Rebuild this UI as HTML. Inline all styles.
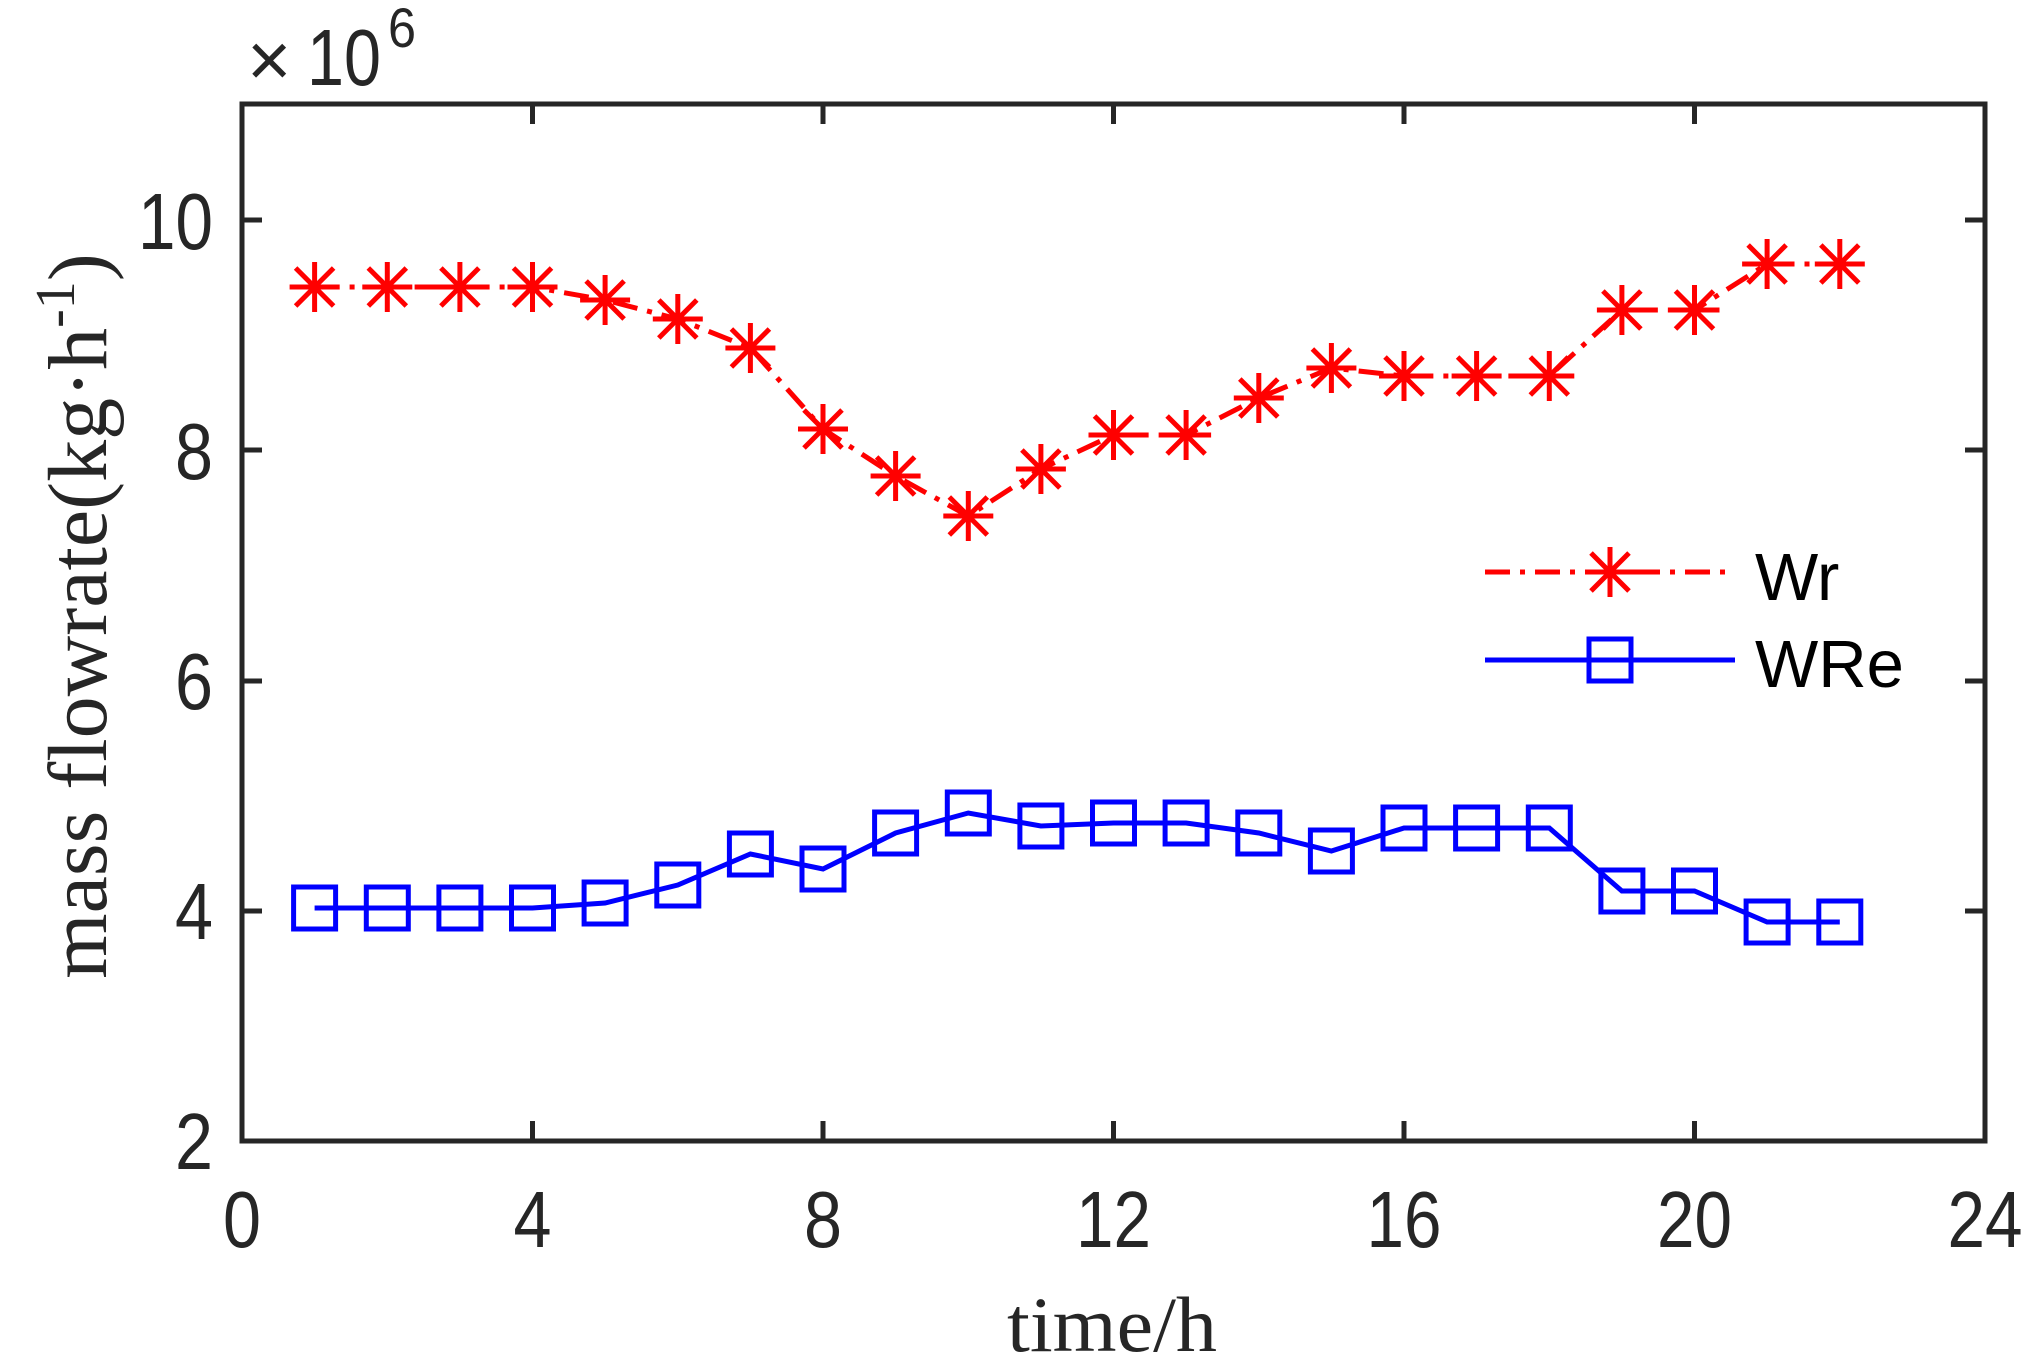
<!DOCTYPE html>
<html><head><meta charset="utf-8"><style>
html,body{margin:0;padding:0;background:#fff;}
svg{display:block;}
</style></head><body>
<svg width="2030" height="1358" viewBox="0 0 2030 1358" xmlns="http://www.w3.org/2000/svg">
<defs>
<g id="st" stroke="#ff0000" stroke-width="5" fill="none">
<line x1="-25" y1="0" x2="25" y2="0"/><line x1="0" y1="-25" x2="0" y2="25"/>
<line x1="-19" y1="-19" x2="19" y2="19"/><line x1="-19" y1="19" x2="19" y2="-19"/>
</g>
<rect id="sq" x="-21" y="-21" width="42" height="42" stroke="#0000ff" stroke-width="5" fill="none"/>
</defs>
<rect width="2030" height="1358" fill="#fff"/>
<g stroke="#262626" stroke-width="5" fill="none">
<rect x="242" y="104" width="1743" height="1037"/>
<path d="M532.5,1141v-20M823,1141v-20M1113.5,1141v-20M1404,1141v-20M1694.5,1141v-20
M532.5,104v20M823,104v20M1113.5,104v20M1404,104v20M1694.5,104v20
M242,911h20M242,681h20M242,450h20M242,220h20
M1985,911h-20M1985,681h-20M1985,450h-20M1985,220h-20"/>
</g>
<g font-family="Liberation Sans, Arial, sans-serif" font-size="80" fill="#262626">
<text x="213" y="1169" text-anchor="end" textLength="38" lengthAdjust="spacingAndGlyphs">2</text>
<text x="213" y="939" text-anchor="end" textLength="38" lengthAdjust="spacingAndGlyphs">4</text>
<text x="213" y="709" text-anchor="end" textLength="38" lengthAdjust="spacingAndGlyphs">6</text>
<text x="213" y="479" text-anchor="end" textLength="38" lengthAdjust="spacingAndGlyphs">8</text>
<text x="213" y="249" text-anchor="end" textLength="75" lengthAdjust="spacingAndGlyphs">10</text>
<text x="223" y="1247" textLength="38" lengthAdjust="spacingAndGlyphs">0</text>
<text x="513.5" y="1247" textLength="38" lengthAdjust="spacingAndGlyphs">4</text>
<text x="804" y="1247" textLength="38" lengthAdjust="spacingAndGlyphs">8</text>
<text x="1076" y="1247" textLength="75" lengthAdjust="spacingAndGlyphs">12</text>
<text x="1366.5" y="1247" textLength="75" lengthAdjust="spacingAndGlyphs">16</text>
<text x="1657" y="1247" textLength="75" lengthAdjust="spacingAndGlyphs">20</text>
<text x="1947.5" y="1247" textLength="75" lengthAdjust="spacingAndGlyphs">24</text>
<text x="247" y="86" font-size="76">×</text>
<text x="307" y="85" textLength="74" lengthAdjust="spacingAndGlyphs">10</text>
<text x="388" y="47" font-size="56" textLength="28" lengthAdjust="spacingAndGlyphs">6</text>
</g>
<text x="1112" y="1351" text-anchor="middle" font-family="Liberation Serif, Times New Roman, serif" font-size="78" fill="#262626" textLength="210" lengthAdjust="spacingAndGlyphs">time/h</text>
<text transform="translate(106,616) rotate(-90)" text-anchor="middle" font-family="Liberation Serif, Times New Roman, serif" font-size="84" fill="#262626">mass flowrate(kg·h<tspan font-size="56" dy="-32">-1</tspan><tspan dy="32">)</tspan></text>
<polyline fill="none" stroke="#ff0000" stroke-width="5" stroke-dasharray="25 10 5 10"
points="314.6,287 387.3,287 459.9,287 532.5,287 605.1,300 677.8,319 750.4,348 823,429 895.6,476 968.3,516 1040.9,469 1113.5,435 1186.1,435 1258.8,398 1331.4,368 1404,376 1476.6,376 1549.3,376 1621.9,310 1694.5,310 1767.1,264 1839.8,264"/>
<g>
<use href="#st" x="314.6" y="287"/><use href="#st" x="387.3" y="287"/><use href="#st" x="459.9" y="287"/><use href="#st" x="532.5" y="287"/>
<use href="#st" x="605.1" y="300"/><use href="#st" x="677.8" y="319"/><use href="#st" x="750.4" y="348"/><use href="#st" x="823" y="429"/>
<use href="#st" x="895.6" y="476"/><use href="#st" x="968.3" y="516"/><use href="#st" x="1040.9" y="469"/><use href="#st" x="1113.5" y="435"/>
<use href="#st" x="1186.1" y="435"/><use href="#st" x="1258.8" y="398"/><use href="#st" x="1331.4" y="368"/><use href="#st" x="1404" y="376"/>
<use href="#st" x="1476.6" y="376"/><use href="#st" x="1549.3" y="376"/><use href="#st" x="1621.9" y="310"/><use href="#st" x="1694.5" y="310"/>
<use href="#st" x="1767.1" y="264"/><use href="#st" x="1839.8" y="264"/>
</g>
<polyline fill="none" stroke="#0000ff" stroke-width="5"
points="314.6,908 387.3,908 459.9,908 532.5,908 605.1,903 677.8,885 750.4,854 823,869 895.6,833 968.3,813 1040.9,826 1113.5,823 1186.1,823 1258.8,833 1331.4,851 1404,828 1476.6,828 1549.3,828 1621.9,891 1694.5,891 1767.1,922 1839.8,922"/>
<g>
<use href="#sq" x="314.6" y="908"/><use href="#sq" x="387.3" y="908"/><use href="#sq" x="459.9" y="908"/><use href="#sq" x="532.5" y="908"/>
<use href="#sq" x="605.1" y="903"/><use href="#sq" x="677.8" y="885"/><use href="#sq" x="750.4" y="854"/><use href="#sq" x="823" y="869"/>
<use href="#sq" x="895.6" y="833"/><use href="#sq" x="968.3" y="813"/><use href="#sq" x="1040.9" y="826"/><use href="#sq" x="1113.5" y="823"/>
<use href="#sq" x="1186.1" y="823"/><use href="#sq" x="1258.8" y="833"/><use href="#sq" x="1331.4" y="851"/><use href="#sq" x="1404" y="828"/>
<use href="#sq" x="1476.6" y="828"/><use href="#sq" x="1549.3" y="828"/><use href="#sq" x="1621.9" y="891"/><use href="#sq" x="1694.5" y="891"/>
<use href="#sq" x="1767.1" y="922"/><use href="#sq" x="1839.8" y="922"/>
</g>
<line x1="1485" y1="572" x2="1727" y2="572" stroke="#ff0000" stroke-width="5" stroke-dasharray="25 10 5 10"/>
<use href="#st" x="1610" y="572"/>
<line x1="1485" y1="660" x2="1735" y2="660" stroke="#0000ff" stroke-width="5"/>
<use href="#sq" x="1610" y="660"/>
<g font-family="Liberation Sans, Arial, sans-serif" font-size="67" fill="#000">
<text x="1755" y="600">Wr</text>
<text x="1755" y="687">WRe</text>
</g>
</svg>
</body></html>
